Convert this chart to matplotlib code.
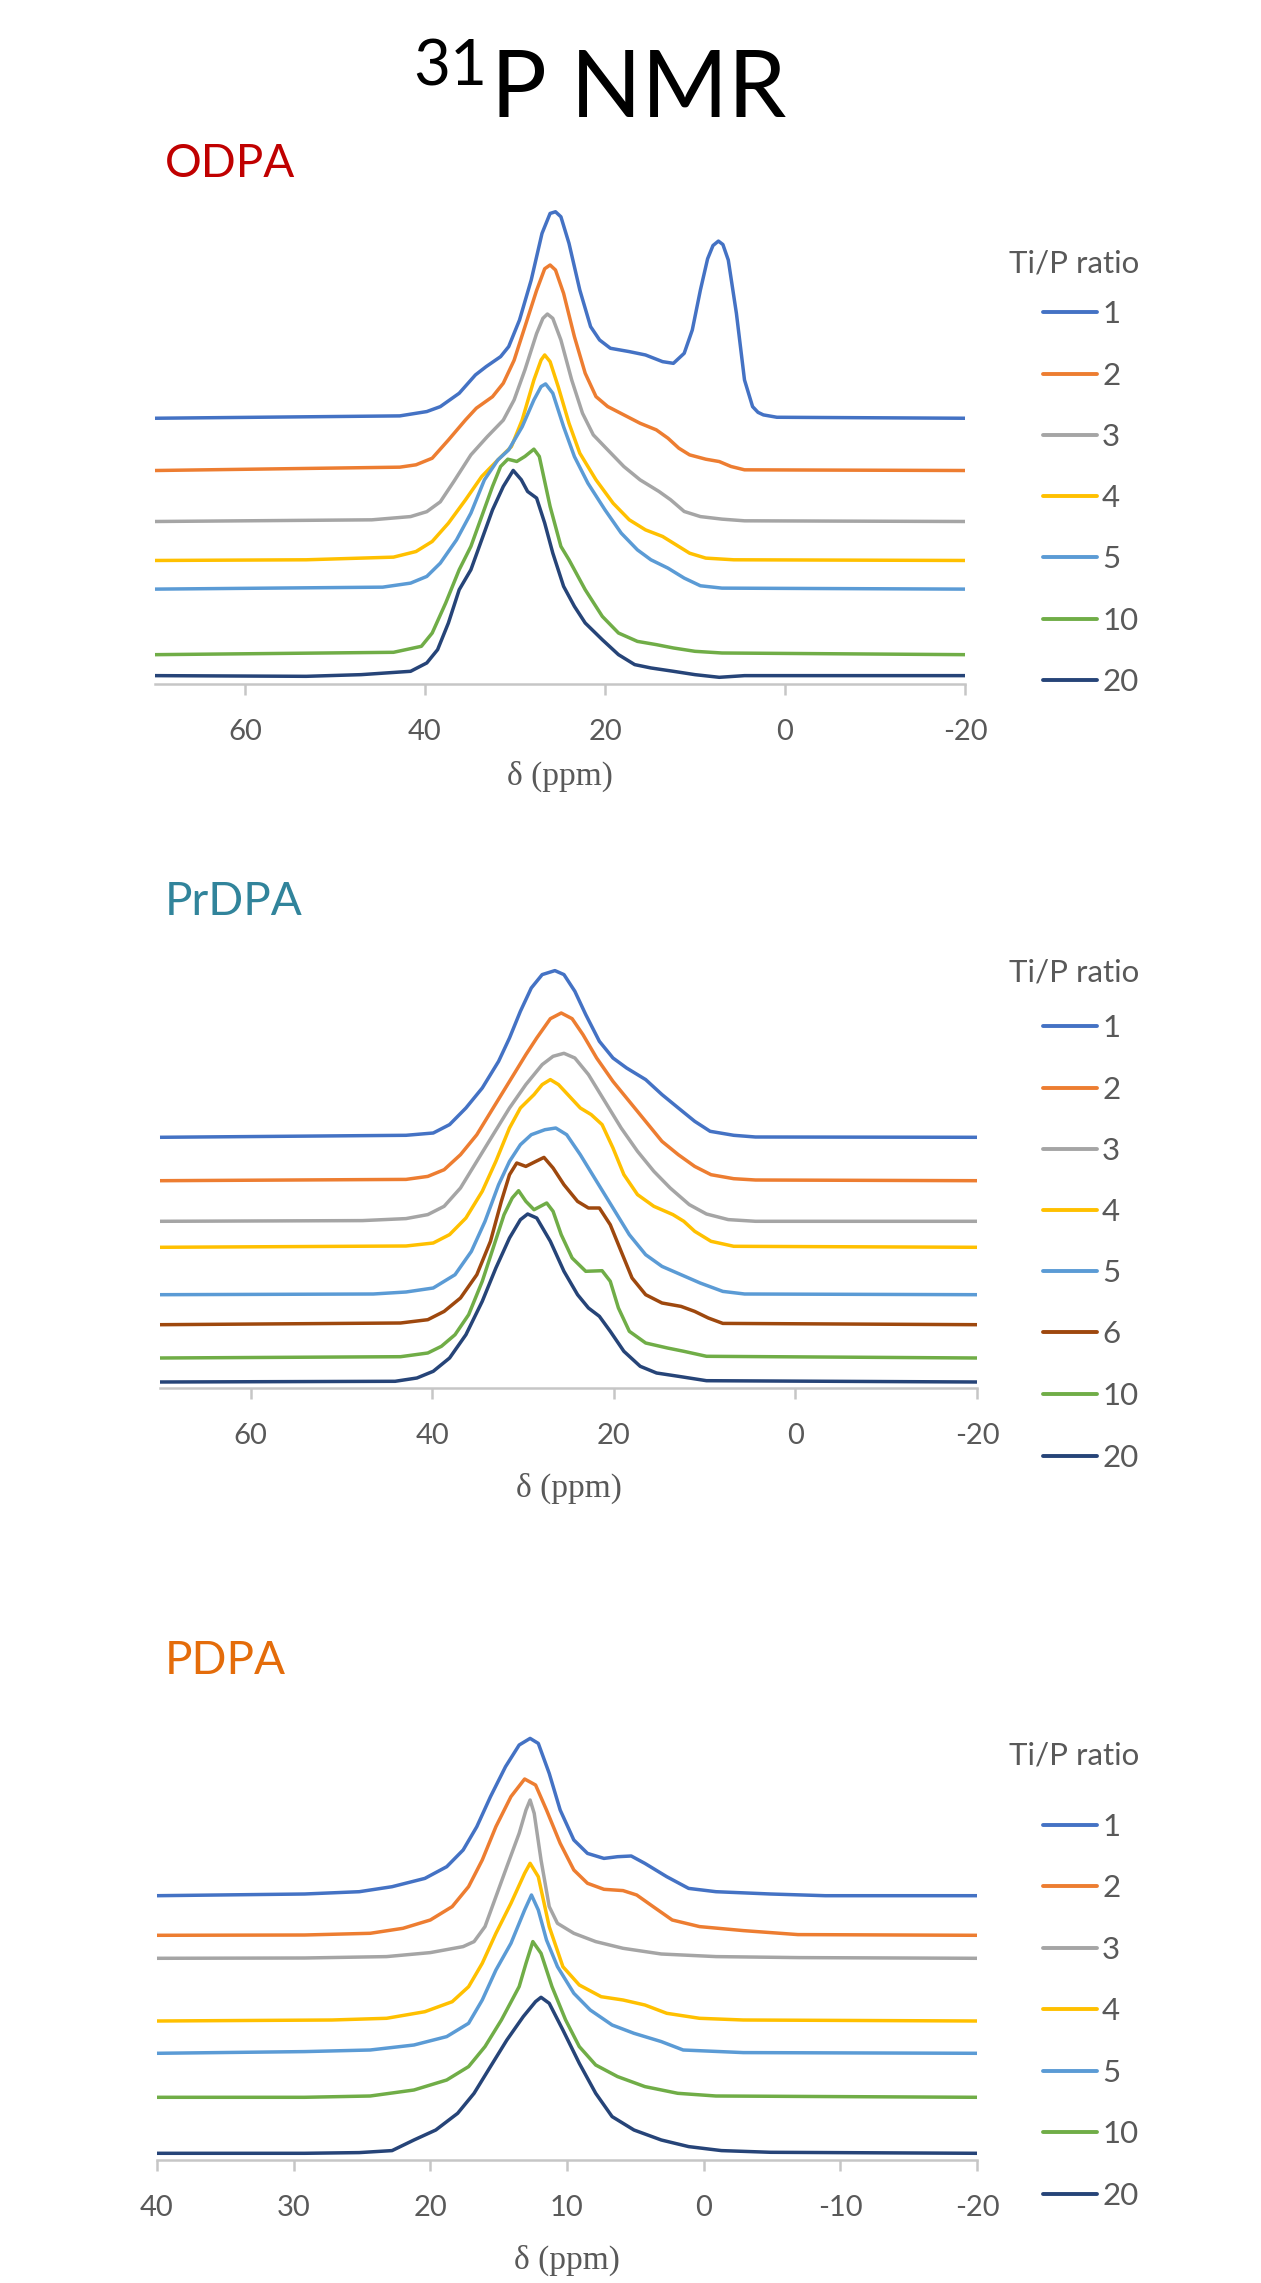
import numpy as np
import matplotlib
matplotlib.use("Agg")
import matplotlib.pyplot as plt
from matplotlib.lines import Line2D

plt.rcParams['font.family'] = ['Lato', 'DejaVu Sans']
plt.rcParams['axes.unicode_minus'] = False

W, H = 1261, 2283

# colours of the Ti/P series
C1, C2, C3, C4, C5 = '#4472C4', '#ED7D31', '#A5A5A5', '#FFC000', '#5B9BD5'
C6, C10, C20 = '#9E480E', '#70AD47', '#264478'
GREY_TXT = '#595959'
AXIS_GREY = '#C6C6C6'

# ---------------- ODPA ----------------
odpa_ratios = ['1', '2', '3', '4', '5', '10', '20']
odpa_colors = [C1, C2, C3, C4, C5, C10, C20]
odpa_offsets = [270, 216.9, 165.1, 125.5, 96.4, 29.8, 8.5]

odpa_1_ppm = [70, 42.8, 39.8, 38.3, 36.2, 34.4, 33.2, 31.6, 30.7, 29.5, 28.2, 27.0, 26.1, 25.5, 24.9, 24.0,
              22.8, 21.6, 20.6, 19.4, 17.3, 15.5, 13.6, 12.4, 11.2, 10.3, 9.4, 8.6, 8.0, 7.4, 6.9, 6.3, 5.4,
              4.5, 3.6, 3.0, 2.4, 0.9, -20]
odpa_1_int = [0, 2.4, 6.8, 11.8, 25.4, 44, 52.5, 62.6, 72.8, 99.8, 140.4, 187.8, 208.1, 209.8, 204.7, 177.7,
              130.3, 93.1, 79.5, 71.1, 67.7, 64.3, 57.5, 55.8, 66, 89.7, 130.3, 162, 175.5, 180, 176.5, 160.7,
              106.6, 38.9, 11.8, 6, 3.4, 1, 0]
odpa_2_ppm = [70, 42.8, 41.0, 39.2, 37.4, 35.5, 34.3, 32.5, 31.3, 30.1, 28.9, 27.6, 26.7, 26.1, 25.5, 24.6,
              23.4, 22.2, 21.0, 19.7, 17.9, 16.1, 14.3, 13.0, 11.8, 10.6, 8.8, 7.3, 6.0, 4.5, -20]
odpa_2_int = [0, 3.4, 5.8, 12.5, 31, 51.4, 63.3, 75, 88.7, 112, 146, 183, 205, 208.8, 203.7, 180,
              136, 98.8, 75.1, 65, 56.5, 48, 41.3, 32.8, 22.7, 15.9, 11.5, 9.1, 4.1, 0.7, 0]
odpa_3_ppm = [70, 45.9, 41.6, 39.8, 38.3, 36.8, 34.9, 33.1, 31.3, 30.1, 28.9, 27.6, 26.9, 26.4, 25.8, 24.9,
              23.7, 22.5, 21.3, 19.7, 17.9, 16.1, 14.0, 12.7, 11.2, 9.4, 7.0, 4.5, -20]
odpa_3_int = [0, 1.7, 5, 10, 20, 40.6, 67.7, 86, 103, 123.5, 154, 191, 206.4, 210.8, 206.4, 184.4,
              143.8, 110, 88, 72.8, 55.8, 42.3, 30.5, 22, 10.2, 5, 2.4, 0.7, 0]
odpa_4_ppm = [70, 53.2, 43.5, 41.0, 39.2, 37.4, 35.5, 33.7, 31.9, 30.4, 29.2, 27.9, 27.1, 26.7, 26.1, 25.2,
              24.0, 22.8, 21.0, 19.1, 17.3, 15.5, 13.6, 12.1, 10.6, 8.8, 5.7, -20]
odpa_4_int = [0, 0.7, 3.4, 9.1, 19.3, 37.9, 61.6, 85.3, 102.2, 115.7, 142.8, 183.4, 203.7, 208.8, 202, 176.6,
              139.4, 109, 81.9, 58.2, 41.3, 31.1, 24.4, 15.9, 7.4, 2.4, 0.7, 0]
odpa_5_ppm = [70, 44.7, 41.6, 39.8, 38.3, 36.5, 34.9, 33.4, 31.9, 30.7, 29.2, 27.9, 27.1, 26.6, 25.8, 24.6,
              23.4, 21.9, 20.0, 18.2, 16.4, 14.9, 13.0, 11.2, 9.4, 7.0, -20]
odpa_5_int = [0, 2, 6.1, 12.9, 26.4, 50, 77.2, 111, 131.3, 141.5, 165, 192.2, 205.8, 208.5, 199, 165,
              134.7, 107.6, 80.5, 56.9, 39.9, 29.8, 21.3, 11.2, 3.4, 1, 0]
odpa_10_ppm = [70, 43.5, 40.4, 39.2, 37.7, 36.2, 34.9, 33.7, 32.5, 31.6, 30.8, 29.8, 28.9, 27.9, 27.3, 26.1,
               24.9, 24.0, 22.2, 20.3, 18.5, 16.4, 14.3, 12.4, 10.0, 7.0, -20]
odpa_10_int = [0, 2.4, 8.5, 22, 52.5, 86.3, 110, 140.4, 170.9, 191.2, 198.6, 196.3, 201.4, 208.8, 201.4, 150.6,
               110, 96.4, 66, 38.9, 22, 13.5, 10.2, 6.8, 3.4, 1.7, 0]
odpa_20_ppm = [70, 53.2, 47.1, 41.6, 39.8, 38.6, 37.4, 36.2, 34.9, 33.7, 32.5, 31.3, 30.2, 29.3, 28.6, 27.6,
               26.7, 25.8, 24.6, 23.4, 22.2, 20.3, 18.5, 16.7, 14.9, 12.4, 10.0, 7.3, 4.5, -20]
odpa_20_int = [0, -0.7, 1, 4.4, 12.9, 26.4, 53.5, 87.3, 107.6, 138, 168.4, 192.2, 208.5, 199, 187.1, 180.4,
               155, 124.5, 90.7, 70.4, 53.5, 36.5, 21.3, 11.2, 7.8, 4.4, 1, -1.7, 0, 0]

odpa_ppm = [odpa_1_ppm, odpa_2_ppm, odpa_3_ppm, odpa_4_ppm, odpa_5_ppm, odpa_10_ppm, odpa_20_ppm]
odpa_int = [odpa_1_int, odpa_2_int, odpa_3_int, odpa_4_int, odpa_5_int, odpa_10_int, odpa_20_int]

# ---------------- PrDPA ----------------
prdpa_ratios = ['1', '2', '3', '4', '5', '6', '10', '20']
prdpa_colors = [C1, C2, C3, C4, C5, C6, C10, C20]
prdpa_offsets = [250.7, 207.3, 166.7, 140.7, 93.3, 63.3, 30, 6]

prdpa_1_ppm = [70, 42.9, 39.9, 38.1, 36.3, 34.5, 32.7, 31.5, 30.3, 29.1, 27.9, 26.5, 25.5, 24.3, 23.1, 21.6,
               20.1, 18.6, 16.5, 14.7, 12.9, 11.1, 9.4, 6.8, 4.4, -20]
prdpa_1_int = [0, 2, 4.3, 12.7, 29.3, 49.3, 76, 99.3, 126, 149.3, 162.7, 166.7, 162.7, 146, 122.7, 96,
               79.3, 69.3, 57.7, 42.7, 29.3, 16, 6, 2, 0.3, 0]
prdpa_2_ppm = [70, 42.9, 40.5, 38.7, 36.9, 35.1, 33.3, 31.5, 29.7, 28.5, 27.0, 25.8, 24.6, 23.4, 21.9, 20.1,
               18.3, 16.5, 14.7, 12.9, 11.1, 9.3, 6.8, 4.4, -20]
prdpa_2_int = [0, 1.3, 4.3, 11, 26, 46, 72.7, 99.3, 126, 142.7, 162, 167.7, 162, 146, 122.7, 99.3,
               79.3, 59.3, 39.3, 26, 14.3, 6, 2, 0.7, 0]
prdpa_3_ppm = [70, 47.7, 42.9, 40.5, 38.7, 36.9, 35.1, 33.3, 31.5, 29.7, 27.9, 26.7, 25.5, 24.3, 22.8, 21.0,
               19.2, 17.4, 15.6, 13.8, 11.7, 9.8, 7.4, 4.4, -20]
prdpa_3_int = [0, 0.7, 2.7, 6.7, 15, 33.3, 60, 86.7, 113.3, 136.7, 156.7, 165, 168, 163.3, 146.7, 120,
               93.3, 70, 50, 33.3, 16.7, 7.3, 1.7, 0, 0]
prdpa_4_ppm = [70, 42.9, 39.9, 38.1, 36.3, 34.5, 33.0, 31.5, 30.3, 28.8, 27.9, 27.0, 26.1, 24.9, 23.7, 22.5,
               21.3, 20.1, 18.9, 17.4, 15.6, 13.5, 12.3, 11.1, 9.3, 6.8, -20]
prdpa_4_int = [0, 1.3, 4.3, 12.7, 29.3, 56, 86, 119.3, 139.3, 152.7, 162.7, 167.7, 162.7, 151, 139.3, 132.7,
               122.7, 99.3, 72.7, 52.7, 41, 32.7, 26, 16, 6, 1, 0]
prdpa_5_ppm = [70, 46.5, 42.9, 39.9, 37.5, 35.7, 34.2, 32.7, 31.5, 30.3, 29.1, 27.6, 26.4, 25.2, 23.7, 21.9,
               20.1, 18.3, 16.5, 14.7, 12.6, 10.5, 8.0, 5.6, -20]
prdpa_5_int = [0, 0.7, 2.7, 6.7, 20, 43.3, 73.3, 110, 133.3, 150, 160, 165, 166.7, 160, 140, 113.3,
               86.7, 60, 40, 28.3, 20, 11.7, 3.3, 0.7, 0]
prdpa_6_ppm = [70, 43.5, 40.5, 38.7, 36.9, 35.1, 33.6, 32.4, 31.5, 30.7, 29.7, 28.6, 27.7, 26.7, 25.5, 24.0,
               22.8, 21.6, 20.4, 19.2, 18.0, 16.5, 14.7, 12.6, 11.1, 9.6, 8.0, -20]
prdpa_6_int = [0, 1.7, 5, 13.3, 26.7, 50, 83.3, 123.3, 150, 161.7, 158.3, 163.3, 167.3, 156.7, 140, 123.3,
               116.7, 116.7, 100, 73.3, 46.7, 30, 21.7, 18.3, 13.3, 6.7, 1.3, 0]
prdpa_10_ppm = [70, 43.5, 40.5, 39.0, 37.5, 36.0, 34.5, 33.3, 32.1, 31.2, 30.5, 29.7, 28.8, 27.4, 26.7, 25.8,
                24.6, 23.1, 21.3, 20.4, 19.5, 18.3, 16.5, 14.1, 12.3, 9.8, -20]
prdpa_10_int = [0, 1.3, 5, 11.7, 23.3, 43.3, 76.7, 110, 143.3, 160, 167.3, 156.7, 148.3, 155, 146.7, 123.3,
                100, 86.7, 87.3, 76.7, 50, 26.7, 15, 10, 6.7, 1.7, 0]
prdpa_20_ppm = [70, 44.1, 41.7, 39.9, 38.1, 36.3, 34.5, 33.0, 31.5, 30.3, 29.5, 28.5, 27.0, 25.5, 24.0, 22.8,
                21.6, 20.4, 18.9, 17.1, 15.3, 12.9, 9.8, -20]
prdpa_20_int = [0, 0.7, 4, 10.7, 24, 47.3, 80.7, 114, 144, 162.3, 168, 164, 140.7, 110.7, 87.3, 74,
                65.7, 50.7, 30.7, 15.7, 9, 5.7, 1.3, 0]

prdpa_ppm = [prdpa_1_ppm, prdpa_2_ppm, prdpa_3_ppm, prdpa_4_ppm, prdpa_5_ppm, prdpa_6_ppm,
             prdpa_10_ppm, prdpa_20_ppm]
prdpa_int = [prdpa_1_int, prdpa_2_int, prdpa_3_int, prdpa_4_int, prdpa_5_int, prdpa_6_int,
             prdpa_10_int, prdpa_20_int]

# ---------------- PDPA ----------------
pdpa_ratios = ['1', '2', '3', '4', '5', '10', '20']
pdpa_colors = [C1, C2, C3, C4, C5, C10, C20]
pdpa_offsets = [264.3, 224.7, 201.7, 139, 106.7, 62.7, 6.7]

pdpa_1_ppm = [40, 29.2, 25.2, 22.8, 20.4, 18.8, 17.6, 16.6, 15.6, 14.5, 13.5, 12.7, 12.1, 11.3, 10.5, 9.5,
              8.5, 7.3, 6.3, 5.3, 4.3, 2.7, 1.1, -0.9, -4.9, -8.9, -20]
pdpa_1_int = [0, 1.7, 4, 9, 17.3, 29, 45.7, 69, 99, 129, 150.7, 157.3, 152.3, 122.3, 85.7, 55.7,
              42.3, 37.3, 39, 39.7, 32.3, 19, 7.3, 4, 1.7, 0, 0]
pdpa_2_ppm = [40, 29.2, 24.4, 22.0, 20.0, 18.4, 17.2, 16.2, 15.2, 14.1, 13.1, 12.3, 11.5, 10.5, 9.5, 8.5,
              7.3, 5.9, 4.9, 3.7, 2.3, 0.3, -2.9, -6.9, -20]
pdpa_2_int = [0, 0.3, 2, 7, 15.3, 28.7, 48.7, 75.3, 108.7, 138.7, 156.3, 150.3, 125.3, 92, 65.3, 52,
              46, 44.7, 40.3, 28.7, 15.3, 8.7, 4.7, 0.7, 0]
pdpa_3_ppm = [40, 29.2, 23.2, 20.0, 17.6, 16.8, 16.0, 15.2, 14.4, 13.5, 13.0, 12.7, 12.4, 11.9, 11.3, 10.7,
              9.5, 7.9, 5.9, 3.1, -0.9, -6.9, -20]
pdpa_3_int = [0, 0.3, 1.7, 5.7, 11.7, 16.7, 31.7, 61.7, 91.7, 125, 148.3, 158.3, 145, 98.3, 51.7, 35,
              25, 16.7, 10, 4.3, 1.7, 0.7, 0]
pdpa_4_ppm = [40, 27.2, 23.2, 20.4, 18.4, 17.2, 16.2, 15.2, 14.1, 13.1, 12.7, 12.1, 11.3, 10.3, 9.1, 7.5,
              5.9, 4.3, 2.7, 0.3, -2.9, -20]
pdpa_4_int = [0, 1, 2.7, 9.3, 19.3, 34.3, 57.7, 87.7, 117.7, 147.7, 157.7, 144.3, 94.3, 54.3, 36, 24.3,
              21, 16, 7.7, 2.7, 1, 0]
pdpa_5_ppm = [40, 29.2, 24.4, 21.2, 18.8, 17.2, 16.2, 15.2, 14.1, 13.1, 12.6, 12.1, 11.5, 10.7, 9.5, 8.3,
              6.7, 5.1, 3.1, 1.5, -2.9, -20]
pdpa_5_int = [0, 1.7, 3.3, 8.3, 16.7, 30, 53.3, 83.3, 110, 143.3, 158.3, 143.3, 113.3, 86.7, 60, 43.3,
              28.3, 20, 11.7, 3.3, 0.7, 0]
pdpa_10_ppm = [40, 29.2, 24.4, 21.2, 18.8, 17.2, 16.0, 14.8, 13.5, 13.0, 12.5, 11.9, 11.1, 10.1, 9.1, 7.9,
               6.3, 4.3, 1.9, -0.9, -20]
pdpa_10_int = [0, 0, 1.3, 7.3, 17.3, 30.7, 50.7, 77.3, 110.7, 134, 155.7, 144, 110.7, 77.3, 50.7, 32.3,
               20.7, 10.7, 4, 1.3, 0]
pdpa_20_ppm = [40, 29.2, 25.2, 22.8, 21.2, 19.6, 18.0, 16.8, 15.6, 14.4, 13.2, 12.3, 11.9, 11.3, 10.3, 9.1,
               7.9, 6.7, 5.1, 3.1, 1.1, -1.3, -4.9, -20]
pdpa_20_int = [0, 0, 0.7, 2.7, 13.3, 23.3, 40, 60, 86.7, 113.3, 136.7, 151.7, 156, 150, 123.3, 90,
               60, 36.7, 23.3, 13.3, 6.7, 2.7, 1, 0]

pdpa_ppm = [pdpa_1_ppm, pdpa_2_ppm, pdpa_3_ppm, pdpa_4_ppm, pdpa_5_ppm, pdpa_10_ppm, pdpa_20_ppm]
pdpa_int = [pdpa_1_int, pdpa_2_int, pdpa_3_int, pdpa_4_int, pdpa_5_int, pdpa_10_int, pdpa_20_int]


def fx(px):
    return px / W


def fy(py):
    return 1 - py / H


fig = plt.figure(figsize=(W / 100, H / 100), dpi=100)
fig.patch.set_facecolor('white')

# title, 31 as superscript
fig.text(fx(487), fy(85), '31', fontsize=46, color='black', ha='right', va='baseline')
fig.text(fx(491), fy(117), 'P NMR', fontsize=67, color='black', ha='left', va='baseline')


def draw_panel(left, right, bottom, xlim, xticks, ymax, ppms, ints, offsets, colors,
               ratios, name, name_color, name_base, leg_title_base, leg_ys, xlabel_y):
    ax = fig.add_axes([fx(left), fy(bottom), (right - left) / W, 500 / H])
    for p, i, off, c in zip(ppms, ints, offsets, colors):
        ax.plot(p, off + np.array(i), color=c, lw=2.5, solid_joinstyle='round',
                solid_capstyle='butt', clip_on=False)
    ax.set_xlim(*xlim)
    ax.set_ylim(0, ymax)
    ax.set_xticks(xticks)
    ax.set_yticks([])
    for s in ['left', 'right', 'top']:
        ax.spines[s].set_visible(False)
    ax.spines['bottom'].set_color(AXIS_GREY)
    ax.spines['bottom'].set_linewidth(1.8)
    ax.tick_params(axis='x', direction='out', length=8, width=1.8, color=AXIS_GREY,
                   labelsize=21, labelcolor=GREY_TXT, pad=17)
    ax.set_facecolor('none')
    ax.set_xlabel('δ (ppm)', family=['Liberation Serif', 'DejaVu Serif'], fontsize=24, color=GREY_TXT)
    ax.xaxis.set_label_coords(0.5, (bottom - xlabel_y) / 500)
    ax.xaxis.label.set_va('center')

    fig.text(fx(165), fy(name_base), name, fontsize=33, color=name_color, ha='left', va='baseline')
    fig.text(fx(1009), fy(leg_title_base), 'Ti/P ratio', fontsize=22.5, color=GREY_TXT,
             ha='left', va='baseline')
    for lab, c, y in zip(ratios, colors, leg_ys):
        fig.add_artist(Line2D([fx(1043), fx(1097)], [fy(y), fy(y)], color=c, lw=2.8,
                              solid_capstyle='round', transform=fig.transFigure))
        fig.text(fx(1102), fy(y + 11), lab, fontsize=22.5, color=GREY_TXT, ha='left', va='baseline')
    return ax


draw_panel(155, 965, 684, (70, -20), [60, 40, 20, 0, -20], 508,
           odpa_ppm, odpa_int, odpa_offsets, odpa_colors, odpa_ratios,
           'ODPA', '#C00000', 177, 273, [312, 374, 435, 496, 557, 619, 680], 776)

draw_panel(160, 977, 1388, (70, -20), [60, 40, 20, 0, -20], 500,
           prdpa_ppm, prdpa_int, prdpa_offsets, prdpa_colors, prdpa_ratios,
           'PrDPA', '#31849B', 915, 981, [1026, 1088, 1149, 1210, 1271, 1332, 1394, 1456], 1488)

draw_panel(157, 977, 2160, (40, -20), [40, 30, 20, 10, 0, -10, -20], 500,
           pdpa_ppm, pdpa_int, pdpa_offsets, pdpa_colors, pdpa_ratios,
           'PDPA', '#E46C0A', 1674, 1765, [1825, 1886, 1948, 2009, 2071, 2132, 2194], 2260)

fig.savefig('out.png', dpi=100, facecolor='white')
